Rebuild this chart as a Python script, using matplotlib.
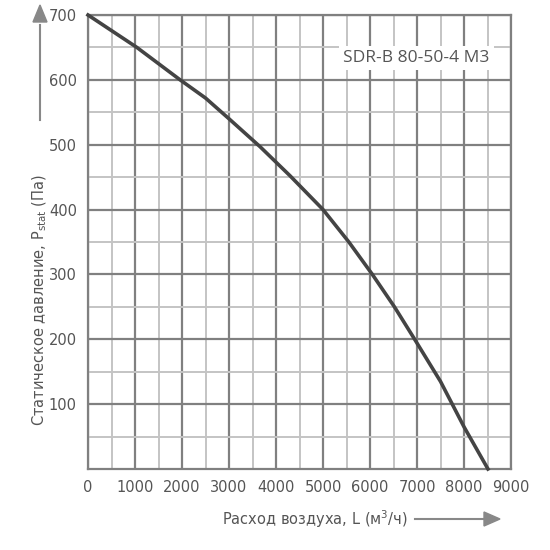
import numpy as np
import matplotlib.pyplot as plt

# curve
flow = [0, 1040, 1960, 2500, 3000, 3660, 4300, 5000, 5550, 6050, 6520, 6950, 7500, 8000, 8510]
pressure = [700, 650, 600, 572, 540, 497, 452, 400, 350, 300, 250, 200, 135, 65, 0]

x_ticks = [0, 1000, 2000, 3000, 4000, 5000, 6000, 7000, 8000, 9000]
y_ticks = [100, 200, 300, 400, 500, 600, 700]
title = 'SDR-B 80-50-4 M3'

fig = plt.figure(figsize=(5.5, 5.5), dpi=100)
ax = fig.add_axes([88/550, 1 - 469/550, 423/550, 454/550])
ax.set_xlim(0, 9000)
ax.set_ylim(0, 700)

ax.set_xticks(x_ticks)
ax.set_xticklabels([str(t) for t in x_ticks])
ax.set_yticks(y_ticks)
ax.set_xticks(np.arange(500, 9000, 1000), minor=True)
ax.set_yticks(np.arange(50, 700, 100), minor=True)
ax.grid(which='major', color='#808080', lw=1.6)
ax.grid(which='minor', color='#c4c4c4', lw=1.4)
ax.tick_params(which='both', length=0, labelsize=10.5, colors='#555555', pad=8)
for s in ax.spines.values():
    s.set_color('#808080')
    s.set_linewidth(1.6)

ax.plot(flow, pressure, color='#444444', lw=2.6, clip_on=False, zorder=5)

ax.text(0.95, 0.905, title, transform=ax.transAxes, ha='right', va='center',
        fontsize=12.5, color='#555555', family='Open Sans',
        bbox=dict(facecolor='white', edgecolor='none', pad=3), zorder=6)

fig.text(315/550, 1 - 519/550, 'Расход воздуха, L (м$^3$/ч)', ha='center', va='center',
         fontsize=10.5, color='#555555')
fig.text(40/550, 1 - 300/550, 'Статическое давление, P$_{\\mathregular{stat}}$ (Па)',
         rotation=90, ha='center', va='center', fontsize=10.5, color='#555555')
fig.add_artist(plt.Line2D([415/550, 488/550], [1 - 519/550] * 2, color='#888888', lw=1.5))
fig.patches.append(plt.Polygon([[484/550, 1 - 512/550], [500/550, 1 - 519/550], [484/550, 1 - 526/550]],
                               closed=True, color='#888888', transform=fig.transFigure))
fig.add_artist(plt.Line2D([40/550] * 2, [1 - 120/550, 1 - 25/550], color='#888888', lw=1.5))
fig.patches.append(plt.Polygon([[33/550, 1 - 22/550], [40/550, 1 - 5/550], [47/550, 1 - 22/550]],
                               closed=True, color='#888888', transform=fig.transFigure))

fig.savefig('out.png', dpi=100)
